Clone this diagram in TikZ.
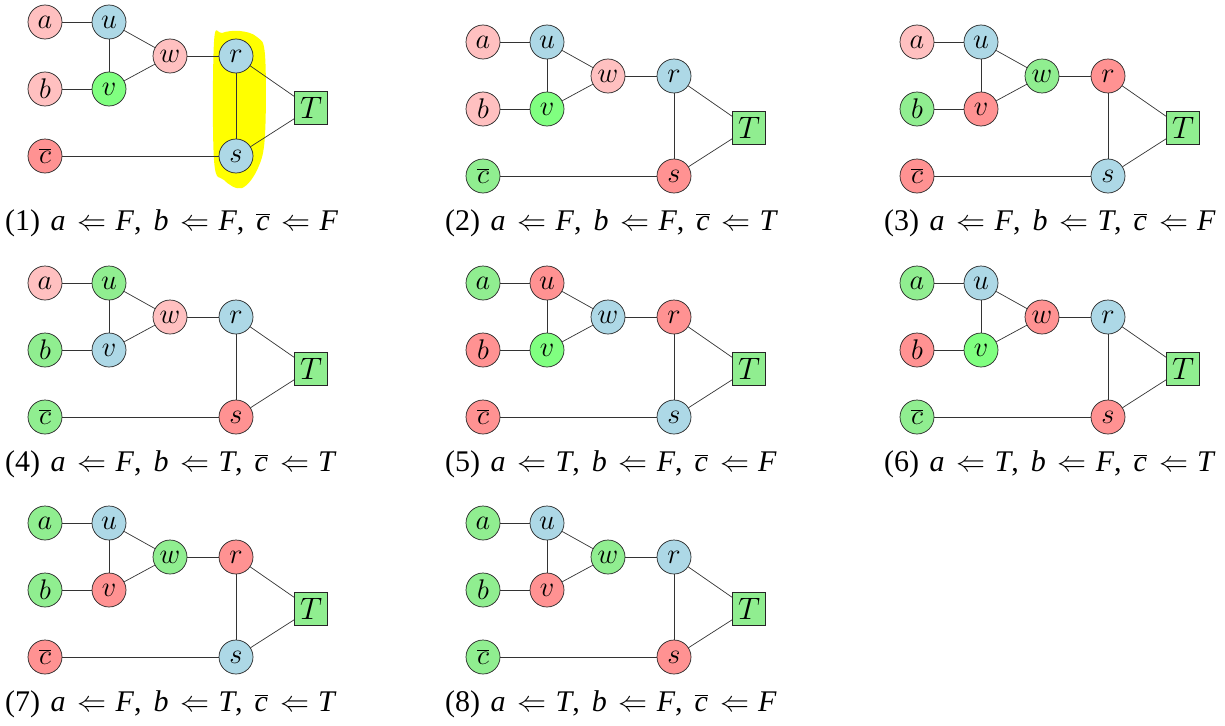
\RequirePackage{fix-cm}
\documentclass[tikz,border=0pt]{standalone}
\usepackage{graphicx}
\usepackage{fontspec}
\setmainfont{Liberation Serif}
\definecolor{pinkc}{RGB}{255,192,192}
\definecolor{redc}{RGB}{255,146,146}
\definecolor{bluec}{RGB}{173,216,230}
\definecolor{lgreen}{RGB}{144,238,144}
\definecolor{bgreen}{RGB}{128,255,128}
\definecolor{hilite}{RGB}{255,255,0}
\tikzset{
  vx/.style={circle, draw=black!85, line width=0.7pt, minimum size=34pt, inner sep=0pt,
             font=\fontsize{20}{20}\selectfont},
  tbox/.style={rectangle, draw=black!85, line width=0.7pt, minimum size=33pt, inner sep=0pt,
             fill=lgreen, font=\fontsize{20}{20}\selectfont},
  edge/.style={draw=black!80, line width=0.7pt},
  capt/.style={anchor=base west, inner sep=0pt, font=\fontsize{30}{33}\selectfont}
}
\newcommand\lbl[1]{\scalebox{1.42}{$#1$}}
\def\setpcols#1/#2/#3/#4/#5/#6/#7/#8\relax{%
  \def\pcA{#1}\def\pcB{#2}\def\pcC{#3}\def\pcU{#4}%
  \def\pcV{#5}\def\pcW{#6}\def\pcR{#7}\def\pcS{#8}}
\newcommand\drawpanel[3]{%
  \setpcols#3\relax
  \begin{scope}[shift={#2}]
    \node[vx, fill=\pcA] (#1a) at (0,0) {\lbl{a}};
    \node[vx, fill=\pcB] (#1b) at (0,67) {\lbl{b}};
    \node[vx, fill=\pcC] (#1c) at (0,134) {\lbl{\overline{c}}};
    \node[vx, fill=\pcU] (#1u) at (64,0) {\lbl{u}};
    \node[vx, fill=\pcV] (#1v) at (64,67) {\lbl{v}};
    \node[vx, fill=\pcW] (#1w) at (125,34) {\lbl{w}};
    \node[vx, fill=\pcR] (#1r) at (191,34) {\lbl{r}};
    \node[vx, fill=\pcS] (#1s) at (191,134) {\lbl{s}};
    \node[tbox] (#1T) at (266,86) {\scalebox{1.55}{$T$}};
    \draw[edge] (#1a) -- (#1u);
    \draw[edge] (#1b) -- (#1v);
    \draw[edge] (#1u) -- (#1v);
    \draw[edge] (#1u) -- (#1w);
    \draw[edge] (#1v) -- (#1w);
    \draw[edge] (#1w) -- (#1r);
    \draw[edge] (#1r) -- (#1s);
    \draw[edge] (#1r) -- (#1T);
    \draw[edge] (#1s) -- (#1T);
    \draw[edge] (#1c) -- (#1s);
  \end{scope}}
\newcommand\cbar{$\overline{\mbox{\textit{c}}}$}
\newcommand\larr{\scalebox{1.45}{\fontsize{20}{20}\selectfont$\Leftarrow$}}
\newcommand\asg[2]{#1\hspace{12pt}\larr\hspace{9pt}\textit{#2}}
\newcommand\capline[4]{(#1)\hspace{3pt} \asg{\textit{a}}{#2},\hspace{12pt}\asg{\textit{b}}{#3},\hspace{12pt}\asg{\cbar}{#4}}
\begin{document}
\begin{tikzpicture}[x=1pt, y=-1pt]
  \useasboundingbox (0,0) rectangle (1225,725);
  % highlight behind r and s of panel 1
  \fill[hilite] plot[smooth cycle, tension=0.6] coordinates
    {(214,42) (222,33) (240,31) (257,37) (265,55) (265,135) (258,168) (242,188) (224,180) (214,160)};
  \drawpanel{p1}{(45,22)}{pinkc/pinkc/redc/bluec/bgreen/pinkc/bluec/bluec}
  \drawpanel{p2}{(483,42)}{pinkc/pinkc/lgreen/bluec/bgreen/pinkc/bluec/redc}
  \drawpanel{p3}{(917,42)}{pinkc/lgreen/redc/bluec/redc/lgreen/redc/bluec}
  \drawpanel{p4}{(45,283)}{pinkc/lgreen/lgreen/lgreen/bluec/pinkc/bluec/redc}
  \drawpanel{p5}{(483,283)}{lgreen/redc/redc/redc/bgreen/bluec/redc/bluec}
  \drawpanel{p6}{(917,283)}{lgreen/redc/lgreen/bluec/bgreen/redc/bluec/redc}
  \drawpanel{p7}{(45,523)}{lgreen/lgreen/redc/bluec/redc/lgreen/redc/bluec}
  \drawpanel{p8}{(483,523)}{lgreen/lgreen/lgreen/bluec/redc/lgreen/bluec/redc}
  \node[capt] (cap1) at (5,230) {\capline{1}{F}{F}{F}};
  \node[capt] (cap2) at (445,230) {\capline{2}{F}{F}{T}};
  \node[capt] (cap3) at (884,230) {\capline{3}{F}{T}{F}};
  \node[capt] (cap4) at (5,471) {\capline{4}{F}{T}{T}};
  \node[capt] (cap5) at (445,471) {\capline{5}{T}{F}{F}};
  \node[capt] (cap6) at (884,471) {\capline{6}{T}{F}{T}};
  \node[capt] (cap7) at (5,711) {\capline{7}{F}{T}{T}};
  \node[capt] (cap8) at (445,711) {\capline{8}{T}{F}{F}};
\end{tikzpicture}
\end{document}
